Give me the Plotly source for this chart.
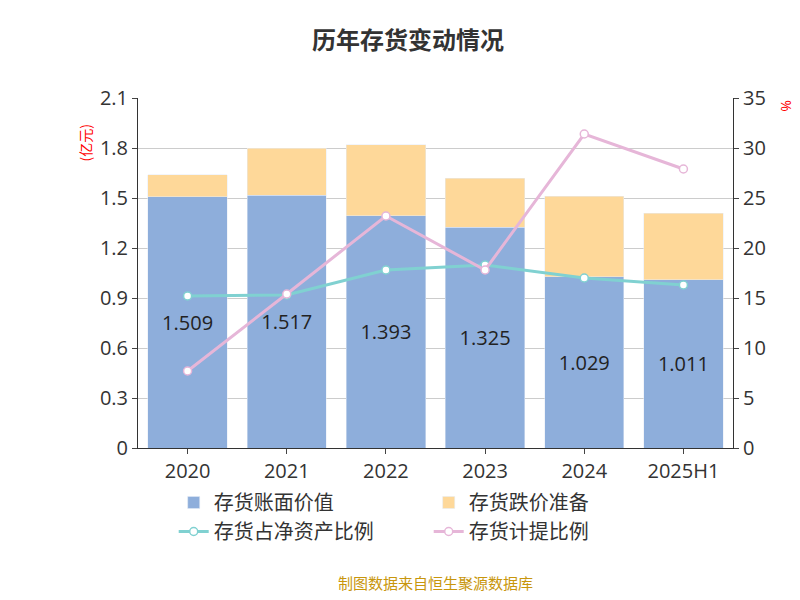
import plotly.graph_objects as go

years = ["2020", "2021", "2022", "2023", "2024", "2025H1"]
book_value = [1.509, 1.517, 1.393, 1.325, 1.029, 1.011]
reserve = [0.131, 0.283, 0.427, 0.295, 0.481, 0.399]
net_asset_ratio = [15.2, 15.3, 17.8, 18.3, 17.0, 16.3]
provision_ratio = [7.7, 15.4, 23.2, 17.8, 31.4, 27.9]
left_ticks = [0, 0.3, 0.6, 0.9, 1.2, 1.5, 1.8, 2.1]
left_labels = ["0", "0.3", "0.6", "0.9", "1.2", "1.5", "1.8", "2.1"]

fig = go.Figure()
fig.add_bar(name="存货账面价值", x=years, y=book_value, marker_color="#8eaedb",
            text=[f"{v:.3f}" for v in book_value], textposition="inside",
            insidetextanchor="middle", textfont=dict(size=20, color="#222"))
fig.add_bar(name="存货跌价准备", x=years, y=reserve, marker_color="#fed899")
fig.add_scatter(name="存货占净资产比例", x=years, y=net_asset_ratio, yaxis="y2",
                mode="lines+markers", line=dict(color="#80d1d1", width=3),
                marker=dict(size=8, color="white", line=dict(color="#80d1d1", width=1.5)))
fig.add_scatter(name="存货计提比例", x=years, y=provision_ratio, yaxis="y2",
                mode="lines+markers", line=dict(color="#e6b6d8", width=3),
                marker=dict(size=8, color="white", line=dict(color="#e6b6d8", width=1.5)))

fig.update_layout(
    width=800, height=600, barmode="stack", bargap=0.2,
    font=dict(family="Open Sans, Noto Sans CJK SC", size=18, color="#333"),
    title=dict(text="<b>历年存货变动情况</b>", x=0.5, y=0.96,
               font=dict(size=24, family="Noto Sans CJK SC")),
    plot_bgcolor="white", paper_bgcolor="white",
    margin=dict(l=130, r=75, t=90, b=160),
    xaxis=dict(showline=True, linecolor="#333", ticks="outside", tickfont=dict(size=20)),
    yaxis=dict(range=[0, 2.1], tickvals=left_ticks, ticktext=left_labels, gridcolor="#ccc",
               showline=True, linecolor="#333", ticks="outside", tickfont=dict(size=20)),
    yaxis2=dict(range=[0, 35], dtick=5, overlaying="y", side="right", showgrid=False,
                showline=True, linecolor="#333", ticks="outside", tickfont=dict(size=20)),
    legend=dict(orientation="h", x=0.06, xanchor="left", y=-0.1, yanchor="top",
                font=dict(size=20, family="Noto Sans CJK SC"), traceorder="normal",
                entrywidth=210, entrywidthmode="pixels"),
    annotations=[dict(text="制图数据来自恒生聚源数据库", x=0.5, y=-0.42, xref="paper",
                      yref="paper", showarrow=False,
                      font=dict(size=15, color="#c8960c", family="Noto Sans CJK SC")),
                 dict(text="(亿元)", x=-0.11, y=0.93, xref="paper", yref="paper",
                      showarrow=False, textangle=-90,
                      font=dict(size=14, color="red", family="Noto Sans CJK SC")),
                 dict(text="%", x=1.11, y=1.0, xref="paper", yref="paper", showarrow=False,
                      textangle=90, font=dict(size=14, color="red"))],
)
fig.write_html("out.html")
